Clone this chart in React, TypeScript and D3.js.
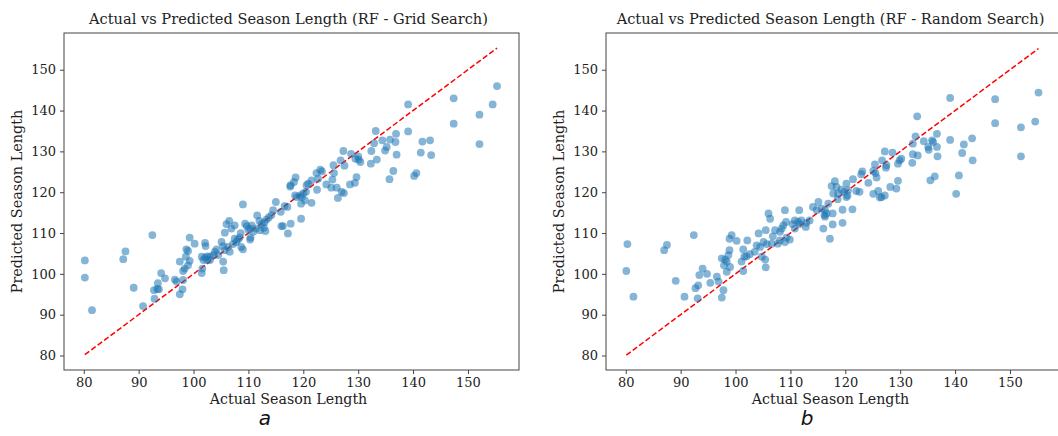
import React, { useEffect, useRef } from "react";
import * as d3 from "d3";

// Grid search panel: actual vs predicted season length
const gridActual = [
  80.2, 80.2, 81.5, 87.2, 87.6, 89.1, 90.8, 92.5, 92.8, 93.4, 93.7, 92.9, 93.5, 94.1, 94.8,
  133.2, 132.9, 134.4, 135.8, 136.9, 136.8, 135.2, 134.9, 132.4, 133.4, 132.3, 137.0, 136.4, 135.7,
  127.3, 128.7, 129.5, 130.1, 130.4, 130.0, 127.5, 126.8, 125.5, 125.6, 125.3, 124.2, 125.1, 126.1, 126.3, 127.0, 127.4, 128.5, 129.4, 129.7,
  123.1, 123.4, 122.4, 122.7, 121.5, 120.9, 120.6, 122.5, 120.5, 120.0, 119.7, 119.4, 118.8, 118.5, 120.3, 121.5, 119.6, 118.6, 118.3, 117.6, 117.7, 119.6,
  115.0, 116.6, 117.1, 115.9, 114.5, 114.2, 113.7, 113.3, 112.9, 112.4, 112.0, 111.6, 111.4, 112.8, 113.1, 112.1, 116.0, 116.3, 117.7, 117.2,
  109.0, 110.6, 110.3, 109.7, 109.4, 110.0, 110.9, 110.4, 110.3, 108.6, 108.4, 108.1, 107.8, 107.5, 106.9, 106.5, 106.0, 105.7, 105.1, 105.4,
  106.3, 106.6, 107.2, 107.5, 108.7, 109.0, 105.7, 104.2, 103.9, 103.6, 104.5, 103.0, 102.5, 102.1, 101.5, 101.8, 102.5, 103.0, 105.4, 105.5,
  101.6, 101.5, 99.3, 100.2, 102.1, 102.2, 98.7, 99.0, 98.6, 99.3, 99.0, 98.4, 98.1, 97.5, 96.6, 96.9, 98.1, 98.0, 97.5,
  155.3, 154.5, 152.1, 152.1, 147.4, 147.4, 139.1, 139.1, 141.7, 143.1, 141.4, 143.3, 140.6, 140.2,
];
const gridPredicted = [
  103.3, 99.1, 91.1, 103.6, 105.5, 96.6, 92.1, 109.5, 96.0, 96.3, 96.2, 93.9, 97.7, 100.2, 98.9,
  135.0, 132.0, 132.7, 132.9, 134.3, 132.3, 131.1, 130.2, 130.1, 128.0, 127.0, 129.2, 125.2, 123.2,
  130.1, 129.4, 128.2, 128.0, 127.4, 128.8, 126.5, 127.8, 126.6, 124.7, 123.1, 121.9, 121.1, 121.1, 118.6, 120.1, 119.8, 121.9, 122.3, 123.7,
  125.5, 125.1, 124.7, 123.3, 122.9, 122.1, 121.7, 120.6, 120.1, 119.7, 118.8, 119.2, 118.8, 119.2, 118.0, 117.4, 117.2, 123.6, 122.5, 121.4, 121.7, 113.5,
  117.6, 116.6, 116.4, 115.2, 115.6, 114.4, 113.8, 113.3, 112.6, 112.2, 113.0, 114.3, 111.1, 111.3, 110.5, 110.7, 111.7, 111.7, 112.3, 109.9,
  117.0, 111.9, 111.1, 111.7, 112.3, 110.8, 110.3, 108.9, 108.4, 110.0, 108.9, 108.4, 107.8, 111.9, 111.1, 113.0, 112.2, 110.1, 107.8, 106.8,
  106.6, 105.4, 107.3, 108.6, 106.6, 106.0, 105.8, 106.0, 105.4, 104.6, 104.6, 104.2, 104.3, 104.0, 104.2, 103.4, 103.4, 103.4, 103.0, 100.9,
  101.3, 100.2, 108.9, 107.4, 107.6, 106.8, 106.0, 105.6, 104.2, 103.2, 102.1, 101.3, 100.7, 103.0, 98.6, 98.1, 98.5, 96.2, 95.0,
  146.0, 141.5, 139.0, 131.8, 143.0, 136.8, 141.5, 134.9, 132.4, 132.7, 129.7, 129.1, 124.7, 124.0,
];

// Random search panel
const randomActual = [
  80.3, 80.1, 81.4, 87.0, 87.5, 89.1, 90.7, 92.4, 92.7, 93.2, 93.1, 93.4,
  133.1, 132.8, 132.3, 134.3, 135.8, 136.0, 136.7, 135.1, 135.2, 136.7, 136.8, 133.2, 132.3, 132.2, 129.9, 130.2, 129.6, 135.5, 136.3,
  127.2, 128.6, 126.7, 127.5, 127.4, 125.4, 125.5, 125.7, 125.1, 123.1, 122.9, 121.4, 124.2, 125.1, 126.0, 126.3, 126.6, 127.2, 128.2, 129.3, 129.6,
  120.2, 120.5, 120.4, 120.2, 119.8, 119.3, 118.7, 118.4, 118.1, 117.5, 118.6, 117.8, 122.0, 122.6, 121.3, 119.5, 116.9, 116.3, 116.6, 115.1,
  115.7, 116.2, 116.3, 117.7, 117.7, 119.5, 116.0, 117.2,
  114.8, 114.1, 113.5, 112.9, 112.8, 111.6, 111.4, 112.0, 111.7, 110.8, 110.4, 110.8, 109.0, 106.3, 106.0, 109.2, 108.7, 108.4, 108.1, 107.2,
  106.8, 109.3, 109.9, 109.0, 108.1, 107.7, 106.6, 105.7, 105.1, 104.5, 104.2, 105.5, 103.85, 103.5, 102.6, 102.0, 102.15, 101.4, 101.6, 101.1,
  101.4, 105.4, 105.5, 104.8, 99.3, 98.9, 100.2, 98.9, 98.7, 98.4, 99.0, 98.1, 97.9, 97.5, 98.4, 96.6, 96.9, 95.4, 94.8, 94.0, 97.8, 97.5,
  155.2, 154.6, 152.0, 152.0, 147.3, 147.3, 139.1, 139.1, 143.1, 141.6, 141.3, 143.2, 140.7, 140.2,
];
const randomPredicted = [
  107.3, 100.7, 94.4, 105.8, 107.1, 98.3, 94.4, 109.5, 96.5, 97.2, 94.0, 99.7,
  138.6, 133.7, 131.9, 132.5, 132.7, 132.3, 134.3, 131.1, 130.4, 131.1, 128.8, 129.0, 129.3, 127.2, 127.8, 128.2, 127.0, 122.9, 123.9,
  130.0, 129.7, 127.8, 126.6, 126.0, 126.8, 124.7, 123.6, 125.2, 125.1, 124.4, 123.2, 122.3, 119.6, 120.3, 118.7, 118.8, 119.2, 121.3, 120.9, 122.8,
  122.1, 120.5, 119.2, 118.8, 120.1, 120.6, 119.7, 121.3, 122.7, 121.5, 118.3, 119.7, 120.3, 120.1, 115.8, 115.7, 117.2, 115.6, 114.8, 117.6,
  116.0, 114.4, 114.0, 114.8, 112.1, 112.5, 111.1, 108.6,
  115.6, 116.4, 113.1, 112.5, 111.5, 115.6, 112.7, 113.1, 112.2, 113.1, 112.2, 111.1, 115.6, 113.5, 114.8, 112.7, 111.9, 111.1, 110.3, 110.7,
  109.2, 108.9, 108.4, 107.8, 108.2, 107.4, 107.4, 107.3, 107.8, 106.6, 109.9, 110.7, 107.0, 105.4, 104.8, 104.3, 108.2, 106.0, 104.2, 103.0,
  100.7, 103.5, 101.6, 104.2, 109.5, 108.6, 108.1, 105.8, 104.6, 103.0, 101.7, 103.5, 102.1, 103.8, 100.5, 99.3, 98.1, 97.8, 100.0, 101.3, 96.0, 94.2,
  144.4, 137.3, 135.9, 128.8, 142.8, 136.9, 143.1, 132.8, 133.2, 131.7, 129.6, 127.8, 124.1, 119.6,
];

const tickValues = [80, 90, 100, 110, 120, 130, 140, 150];
const xDomain = [76.4, 159.3];
const yDomain = [76.45, 159.0];

const font = "'DejaVu Serif', serif";

function Panel({ actual, predicted, title, left, letter }) {
  const ref = useRef();

  useEffect(() => {
    const top = 33, bottom = 370, width = 455;
    const x = d3.scaleLinear().domain(xDomain).range([left, left + width]);
    const y = d3.scaleLinear().domain(yDomain).range([bottom, top]);

    const g = d3.select(ref.current);
    g.selectAll("*").remove();

    // dashed identity line from min to max of actual values
    const lo = d3.min(actual), hi = d3.max(actual);
    g.append("line")
      .attr("x1", x(lo)).attr("y1", y(lo))
      .attr("x2", x(hi)).attr("y2", y(hi))
      .attr("stroke", "#ff0000")
      .attr("stroke-width", 1.5)
      .attr("stroke-dasharray", "5.5,2.5");

    g.append("g")
      .selectAll("circle")
      .data(actual.map((a, i) => [a, predicted[i]]))
      .join("circle")
      .attr("cx", d => x(d[0]))
      .attr("cy", d => y(d[1]))
      .attr("r", 3.9)
      .attr("fill", "#1f77b4")
      .attr("fill-opacity", 0.55);

    // frame
    g.append("rect")
      .attr("x", left).attr("y", top)
      .attr("width", width).attr("height", bottom - top)
      .attr("fill", "none")
      .attr("stroke", "#444")
      .attr("stroke-width", 1);

    const xAxis = g.append("g")
      .attr("transform", `translate(0,${bottom})`)
      .call(d3.axisBottom(x).tickValues(tickValues).tickSize(4).tickPadding(4));
    const yAxis = g.append("g")
      .attr("transform", `translate(${left},0)`)
      .call(d3.axisLeft(y).tickValues(tickValues).tickSize(4).tickPadding(4));
    [xAxis, yAxis].forEach(a => {
      a.select(".domain").remove();
      a.selectAll("line").attr("stroke", "#444");
      a.selectAll("text")
        .attr("fill", "#222")
        .style("font-family", font)
        .style("font-size", "13px");
    });

    g.append("text")
      .attr("x", left + width / 2 - 3)
      .attr("y", 24)
      .attr("text-anchor", "middle")
      .style("font-family", font)
      .style("font-size", "14.6px")
      .attr("fill", "#222")
      .text(title);

    g.append("text")
      .attr("x", left + width / 2 - 3)
      .attr("y", 403.5)
      .attr("text-anchor", "middle")
      .style("font-family", font)
      .style("font-size", "14.2px")
      .attr("fill", "#222")
      .text("Actual Season Length");

    g.append("text")
      .attr("transform", `translate(${left - 42},${(top + bottom) / 2}) rotate(-90)`)
      .attr("text-anchor", "middle")
      .style("font-family", font)
      .style("font-size", "14.4px")
      .attr("fill", "#222")
      .text("Predicted Season Length");

    g.append("text")
      .attr("x", left + 201)
      .attr("y", 425)
      .attr("text-anchor", "middle")
      .style("font-family", "'DejaVu Sans', sans-serif")
      .style("font-style", "italic")
      .style("font-size", "20px")
      .attr("fill", "#111")
      .text(letter);
  }, [actual, predicted, title, left, letter]);

  return <g ref={ref}></g>;
}

export default function App() {
  return (
    <svg width={1058} height={436} style={{ position: "absolute", left: 0, top: 0, background: "#fff" }}>
      <Panel actual={gridActual} predicted={gridPredicted}
        title="Actual vs Predicted Season Length (RF - Grid Search)" left={64} letter="a" />
      <Panel actual={randomActual} predicted={randomPredicted}
        title="Actual vs Predicted Season Length (RF - Random Search)" left={606} letter="b" />
    </svg>
  );
}
